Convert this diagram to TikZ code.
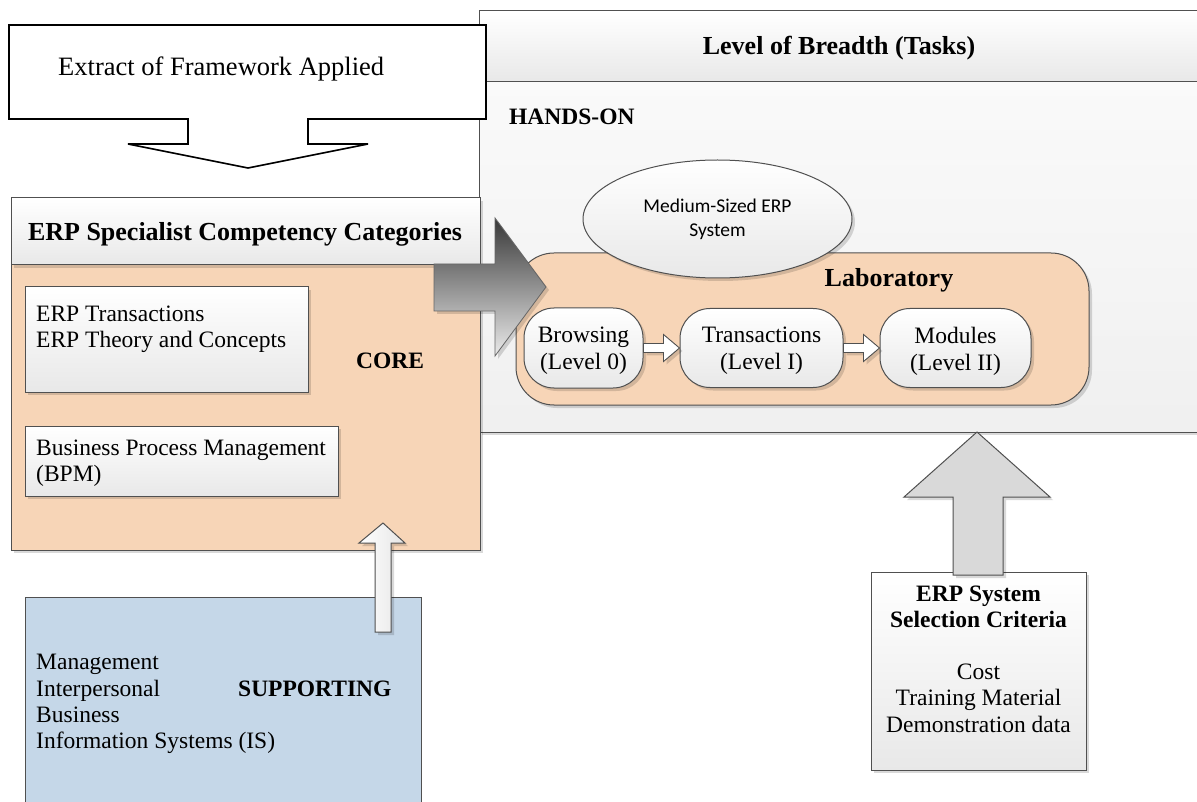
\documentclass[tikz,border=0pt]{standalone}
\usepackage{fontspec}
\setmainfont{Liberation Serif}
\newfontfamily\calibri{Carlito}
\usetikzlibrary{shapes.geometric,shadows,calc}

\definecolor{peach}{HTML}{F7D5B7}
\definecolor{paleblue}{HTML}{C5D7E8}
\definecolor{edge}{HTML}{505050}
\definecolor{arrowgray}{HTML}{D9D9D9}

\tikzset{
  shd/.style={drop shadow={shadow xshift=3pt,shadow yshift=-3pt,opacity=0.15,fill=black}},
  frame/.style={draw=edge,line width=1pt},
  plainbox/.style={frame,rectangle,inner sep=0pt},
  glossy/.style={top color=white,bottom color=black!9},
  panelfill/.style={top color=black!2,bottom color=black!6},
  bodytext/.style={font=\fontsize{23.5}{26.3}\selectfont,inner sep=0pt,align=left},
  centertext/.style={font=\fontsize{23.5}{26.5}\selectfont,inner sep=0pt,align=center},
  headtext/.style={font=\fontsize{26}{30}\selectfont\bfseries,inner sep=0pt},
  labeltext/.style={font=\fontsize{23.5}{27}\selectfont\bfseries,inner sep=0pt},
  pill/.style={frame,rectangle,rounded corners=30pt,inner sep=0pt,glossy,shd},
  pilltext/.style={font=\fontsize{23.5}{27}\selectfont,align=center,inner sep=0pt},
  pillarrow/.style={draw=edge,line width=0.9pt,fill=white,line join=miter},
  blockarrow/.style={draw=edge,line width=1pt,line join=miter},
  callout/.style={draw=black,line width=1.6pt,fill=white,line join=miter}
}

% a small hollow arrow between two neighbouring pills
\newcommand\pillstep[2]{%
  \path[pillarrow,shd]
    ($(#1.east)+(0,-4.5)$) -- ($(#2.west)+(-16,-4.5)$) -- ($(#2.west)+(-16,-13.5)$)
    -- (#2.west) -- ($(#2.west)+(-16,13.5)$) -- ($(#2.west)+(-16,4.5)$)
    -- ($(#1.east)+(0,4.5)$) -- cycle;}

\begin{document}
\begin{tikzpicture}[x=1pt,y=-1pt]
\useasboundingbox (0,0) rectangle (1197,802);

% ---- level of breadth panel ----
\node[plainbox,panelfill,shd,minimum width=730pt,minimum height=350pt] (breadth) at (844,257) {};
\node[plainbox,glossy,minimum width=730pt,minimum height=71pt] (breadthhead) at (844,46.5) {};
\node[headtext] (breadthtitle) at (839,48) {Level of Breadth (Tasks)};
\node[labeltext,anchor=west] (handson) at (509,117) {HANDS-ON};

% ---- laboratory ----
\node[plainbox,fill=peach,rounded corners=38pt,shd,minimum width=573pt,minimum height=152pt] (lab) at (802.5,329) {};
\node[headtext] (labtitle) at (889,280.5) {Laboratory};
\node[frame,ellipse,glossy,shd,inner sep=0pt,minimum width=269pt,minimum height=118pt,
      font=\calibri\fontsize{19.5}{24}\selectfont,align=center] (erpsys) at (717.5,219)
      {Medium-Sized ERP\\System};
\node[pill,minimum width=119pt,minimum height=80pt] (browse) at (583.5,348) {};
\node[pill,minimum width=163pt,minimum height=79pt] (trans) at (761.5,348) {};
\node[pill,minimum width=151pt,minimum height=79pt] (mods) at (955.5,348) {};
\node[pilltext] at ($(browse)+(0,3)$) {Browsing\\(Level 0)};
\node[pilltext] at ($(trans)+(0,3)$) {Transactions\\(Level I)};
\node[pilltext] at ($(mods)+(0,3)$) {Modules\\(Level II)};
\pillstep{browse}{trans}
\pillstep{trans}{mods}

% ---- framework callout ----
\path[callout] (9,25) -- (486,25) -- (486,119) -- (308,119) -- (308,144) -- (368,144)
  -- (248,168) -- (128,144) -- (188,144) -- (188,119) -- (9,119) -- cycle;
\node[font=\fontsize{26.5}{30}\selectfont,inner sep=0pt,anchor=west] (extract) at (58,69) {Extract of Framework Applied};

% ---- competency categories ----
\node[plainbox,fill=peach,shd,minimum width=469pt,minimum height=285pt] (erpbody) at (245.5,407.5) {};
\node[plainbox,glossy,shd,minimum width=469pt,minimum height=67pt] (erphead) at (245.5,231.5) {};
\node[headtext] (erptitle) at (245,234) {ERP Specialist Competency Categories};
\node[plainbox,glossy,shd,minimum width=283pt,minimum height=105pt] (core1) at (166.5,339.5) {};
\node[bodytext,anchor=west] (core1text) at (36,329) {ERP Transactions\\ERP Theory and Concepts};
\node[plainbox,glossy,shd,minimum width=313pt,minimum height=70pt] (bpm) at (181.5,461) {};
\node[bodytext,anchor=west] (bpmtext) at (36,463) {Business Process Management\\(BPM)};
\node[labeltext] (core) at (390,360.5) {CORE};

% ---- arrow into the hands-on panel ----
\path[draw=black!60,line width=0.8pt,top color=black!78,bottom color=black!8,shd,line join=miter]
  (434,264) -- (495,264) -- (495,218) -- (546,287) -- (495,356) -- (495,311) -- (434,311) -- cycle;

% ---- supporting ----
\node[plainbox,fill=paleblue,minimum width=396pt,minimum height=213pt] (supp) at (223,703.5) {};
\node[bodytext,anchor=west] (supptext) at (36,704) {Management\\Interpersonal\\Business\\Information Systems (IS)};
\node[labeltext,anchor=west] (supporting) at (238,688.5) {SUPPORTING};
\path[blockarrow,left color=white,right color=black!10,shd]
  (375,632) -- (375,543) -- (359,543) -- (383,523) -- (405,543) -- (391,543) -- (391,632) -- cycle;

% ---- selection criteria ----
\node[plainbox,glossy,shd,minimum width=215pt,minimum height=198pt] (crit) at (978.5,671) {};
\node[centertext] (crittext) at (978.5,659)
  {\textbf{ERP System}\\\textbf{Selection Criteria}\\[25pt]Cost\\Training Material\\Demonstration data};
\path[blockarrow,fill=arrowgray,shd]
  (953,575) -- (953,497) -- (904,497) -- (977,432) -- (1050,497) -- (1003,497) -- (1003,575) -- cycle;
\end{tikzpicture}
\end{document}
